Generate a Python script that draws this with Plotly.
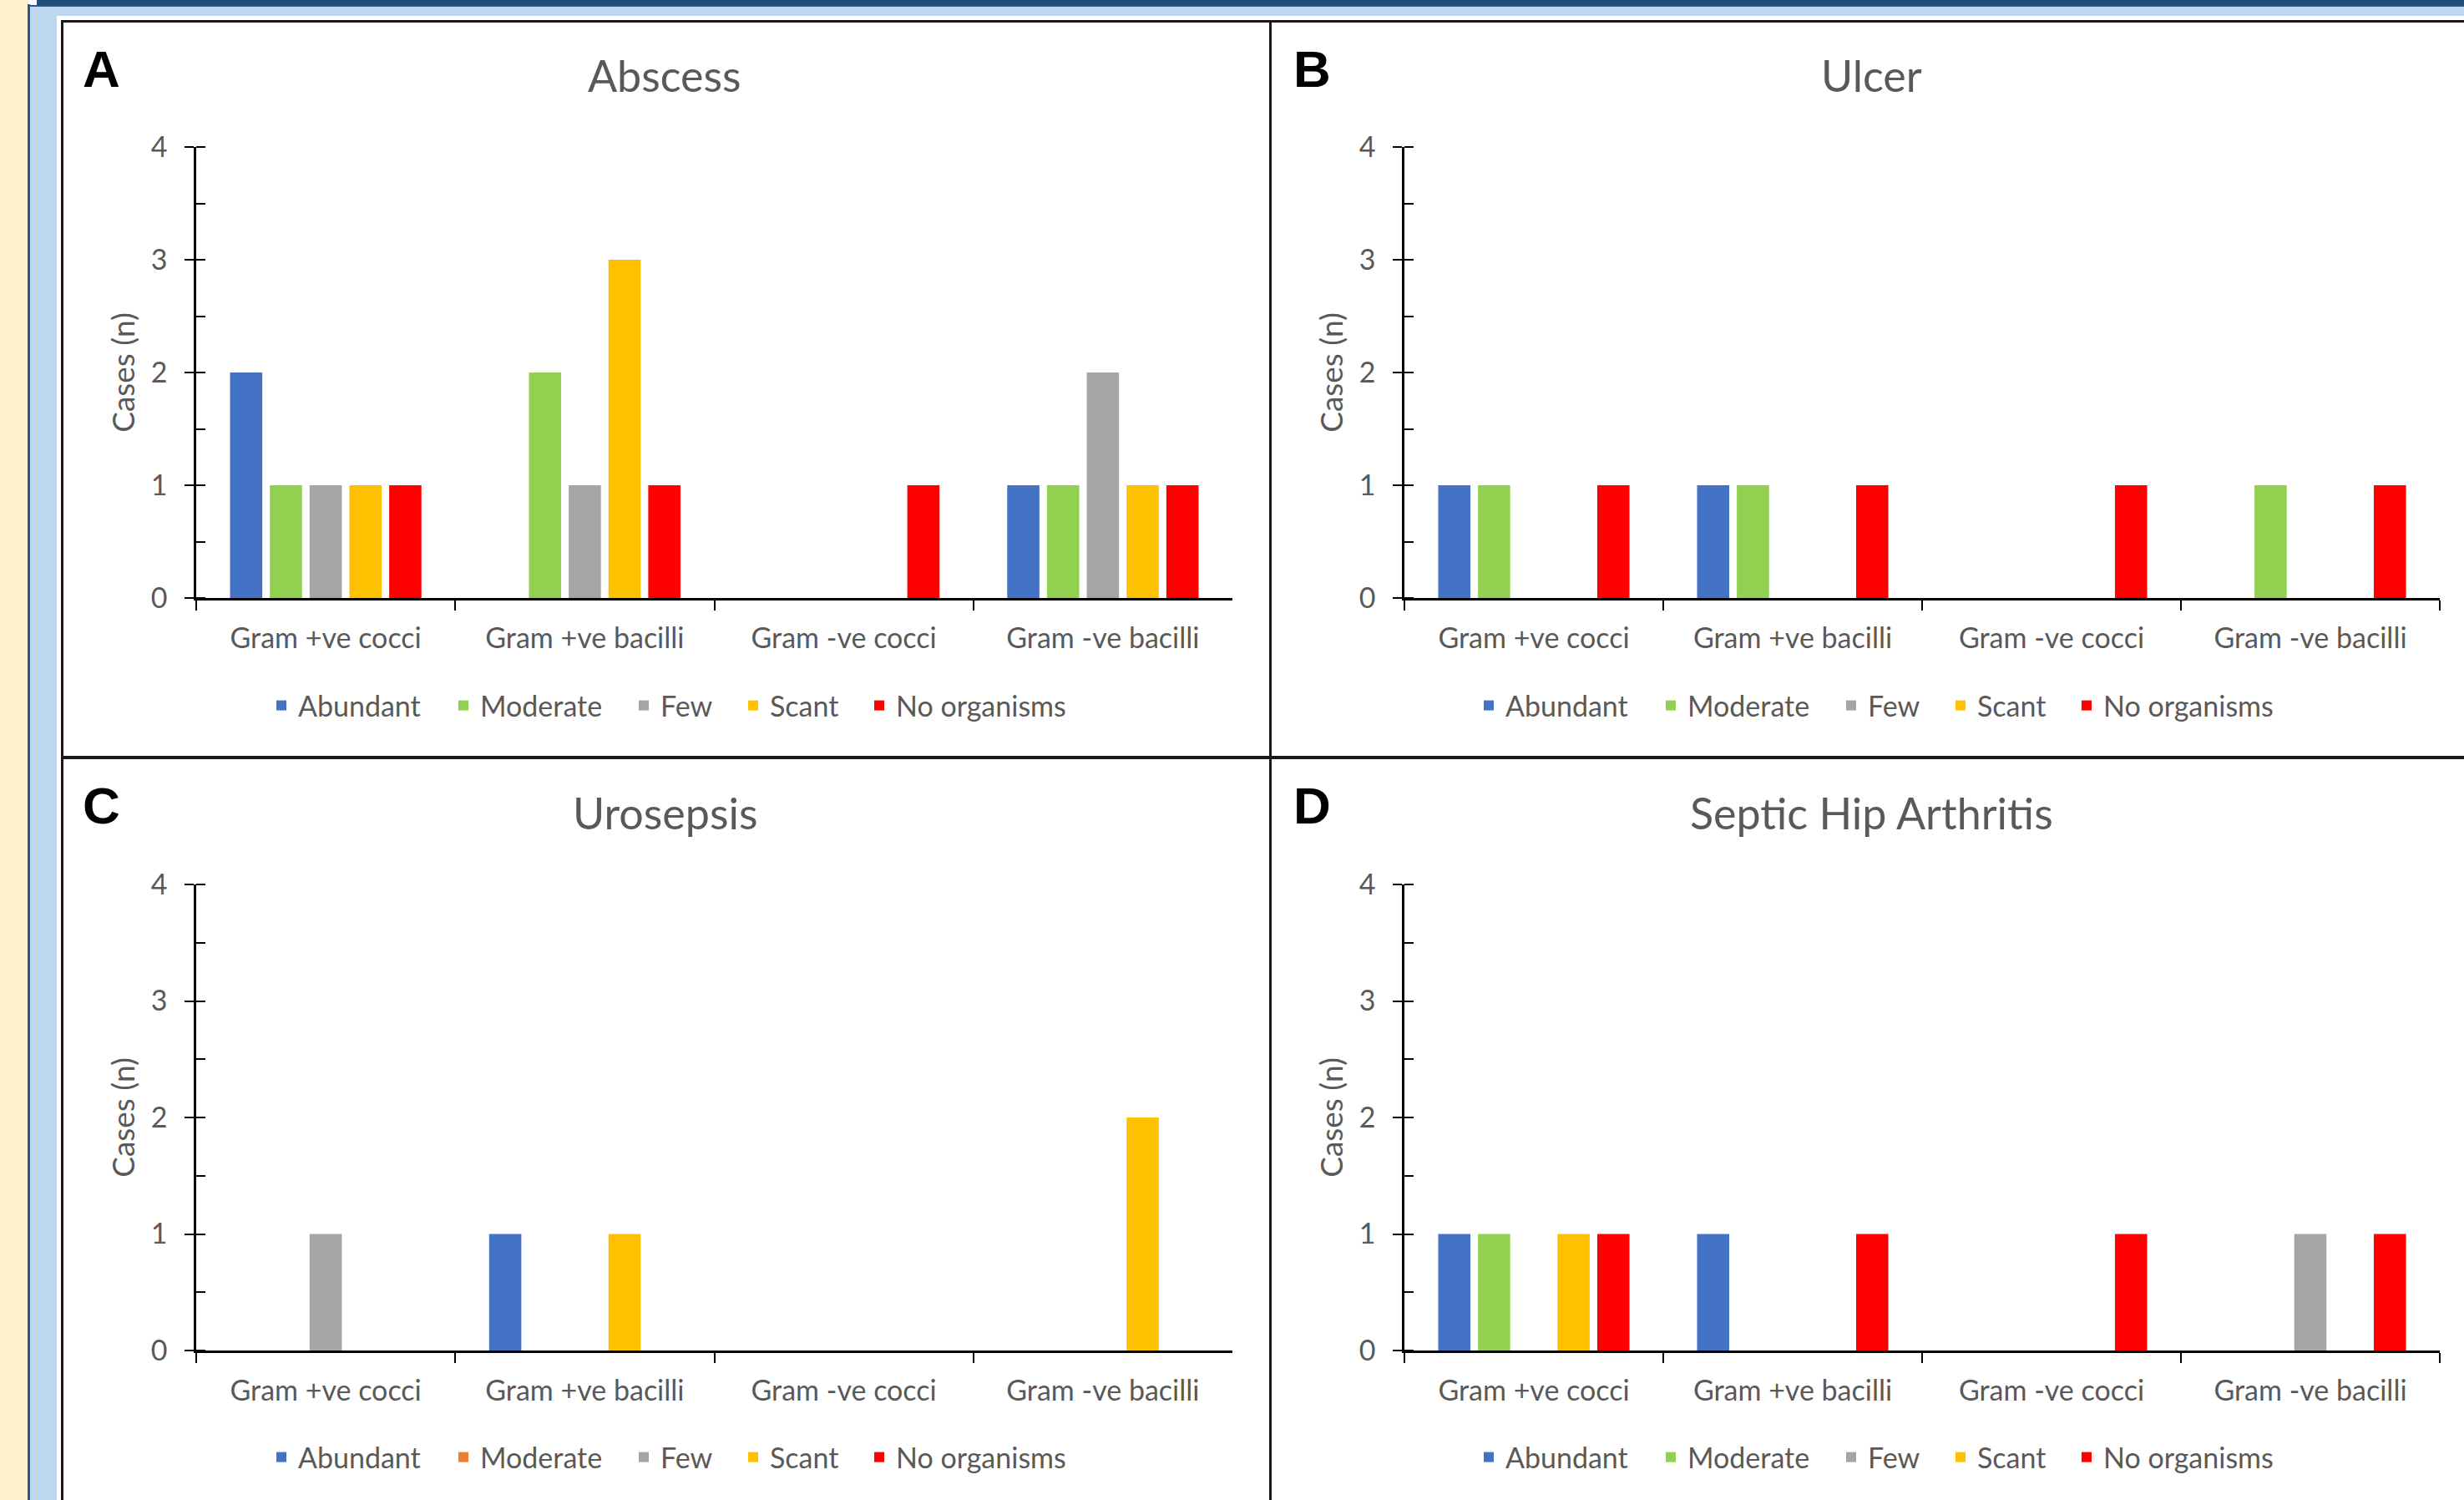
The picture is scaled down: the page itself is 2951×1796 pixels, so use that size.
import plotly.graph_objects as go

W, H = 2951, 1796

# ---------------- data ----------------
categories = ["Gram +ve cocci", "Gram +ve bacilli", "Gram -ve cocci", "Gram -ve bacilli"]
series_names = ["Abundant", "Moderate", "Few", "Scant", "No organisms"]
series_colors = ["#4472C4", "#92D050", "#A5A5A5", "#FFC000", "#FF0000"]
urosepsis_colors = ["#4472C4", "#ED7D31", "#A5A5A5", "#FFC000", "#FF0000"]

panel_titles = ["Abscess", "Ulcer", "Urosepsis", "Septic Hip Arthritis"]
panel_letters = ["A", "B", "C", "D"]
y_axis_title = "Cases (n)"
y_tick_values = [0, 1, 2, 3, 4]

abscess_abundant = [2, 0, 0, 1]
abscess_moderate = [1, 2, 0, 1]
abscess_few = [1, 1, 0, 2]
abscess_scant = [1, 3, 0, 1]
abscess_no_organisms = [1, 1, 1, 1]

ulcer_abundant = [1, 1, 0, 0]
ulcer_moderate = [1, 1, 0, 1]
ulcer_few = [0, 0, 0, 0]
ulcer_scant = [0, 0, 0, 0]
ulcer_no_organisms = [1, 1, 1, 1]

urosepsis_abundant = [0, 1, 0, 0]
urosepsis_moderate = [0, 0, 0, 0]
urosepsis_few = [1, 0, 0, 0]
urosepsis_scant = [0, 1, 0, 2]
urosepsis_no_organisms = [0, 0, 0, 0]

hip_abundant = [1, 1, 0, 0]
hip_moderate = [1, 0, 0, 0]
hip_few = [0, 0, 0, 1]
hip_scant = [1, 0, 0, 0]
hip_no_organisms = [1, 1, 1, 1]

panels_values = [
    [abscess_abundant, abscess_moderate, abscess_few, abscess_scant, abscess_no_organisms],
    [ulcer_abundant, ulcer_moderate, ulcer_few, ulcer_scant, ulcer_no_organisms],
    [urosepsis_abundant, urosepsis_moderate, urosepsis_few, urosepsis_scant, urosepsis_no_organisms],
    [hip_abundant, hip_moderate, hip_few, hip_scant, hip_no_organisms],
]
panels_colors = [series_colors, series_colors, urosepsis_colors, series_colors]

# ---------------- layout geometry (pixels) ----------------
def px(x):
    return x / W

def py(y):
    return 1 - y / H

# plot areas: (left, right, top, bottom)
areas = [
    (235, 1476, 176, 716),
    (1682, 2922, 176, 716),
    (235, 1476, 1059, 1617),
    (1682, 2922, 1059, 1617),
]
title_pos = [(796, 90), (2241, 90), (796, 973), (2241, 973)]
letter_pos = [(97, 83), (1547, 83), (97, 964), (1547, 964)]
# legend rows: horizontal offset and vertical centre of each panel's legend
legend_rows = [(0, 845), (1446, 845), (0, 1745), (1446, 1745)]
# where each legend entry's text begins (panel A coordinates)
legend_text_x = [357, 575, 791, 922, 1073]

FONT = "Lato"
GREY = "#595959"
TICK_SIZE = 34

fig = go.Figure()

def legend_id(p, s):
    k = p * 5 + s + 1
    return "legend" if k == 1 else f"legend{k}"

for p in range(4):
    xa = "x" if p == 0 else f"x{p+1}"
    ya = "y" if p == 0 else f"y{p+1}"
    for s, name in enumerate(series_names):
        fig.add_trace(go.Bar(
            x=categories,
            y=panels_values[p][s],
            name=name,
            marker=dict(color=panels_colors[p][s], line=dict(width=0)),
            xaxis=xa, yaxis=ya,
            legend=legend_id(p, s),
            showlegend=True,
            hoverinfo="x+y+name",
        ))

layout = dict(
    width=W, height=H, autosize=False,
    margin=dict(l=0, r=0, t=0, b=0, pad=0, autoexpand=False),
    paper_bgcolor="white", plot_bgcolor="rgba(0,0,0,0)",
    barmode="group", bargap=0.232, bargroupgap=0.19,
    font=dict(family=FONT, color=GREY, size=TICK_SIZE),
    showlegend=True,
)

for p in range(4):
    l, r, t, b = areas[p]
    xkey = "xaxis" if p == 0 else f"xaxis{p+1}"
    ykey = "yaxis" if p == 0 else f"yaxis{p+1}"
    ya = "y" if p == 0 else f"y{p+1}"
    xa = "x" if p == 0 else f"x{p+1}"
    layout[xkey] = dict(
        domain=[px(l), px(r)], anchor=ya, type="category",
        categoryorder="array", categoryarray=categories,
        tickson="boundaries", ticks="outside", ticklen=12, tickwidth=2, tickcolor="black",
        showline=True, linecolor="black", linewidth=2.5,
        showgrid=False, zeroline=False, automargin=False,
        tickfont=dict(family=FONT, size=TICK_SIZE, color=GREY),
        ticklabelstandoff=16,
        fixedrange=True,
    )
    layout[ykey] = dict(
        domain=[py(b), py(t)], anchor=xa,
        range=[0, 4], tickmode="array", tickvals=y_tick_values,
        ticks="outside", ticklen=11, tickwidth=2, tickcolor="black",
        minor=dict(dtick=0.5, ticks="inside", ticklen=11, tickwidth=2, tickcolor="black", showgrid=False),
        showline=True, linecolor="black", linewidth=2.5,
        showgrid=False, zeroline=False, automargin=False,
        tickfont=dict(family=FONT, size=TICK_SIZE, color=GREY),
        ticklabelstandoff=14,
        title=dict(text=y_axis_title, font=dict(family=FONT, size=37, color=GREY), standoff=8),
        fixedrange=True,
    )
    dx, ly = legend_rows[p]
    for s in range(5):
        lx = legend_text_x[s] + dx - 40
        layout[legend_id(p, s)] = dict(
            orientation="h", x=px(lx), y=py(ly), xanchor="left", yanchor="middle",
            xref="paper", yref="paper",
            font=dict(family=FONT, size=TICK_SIZE, color=GREY),
            bgcolor="rgba(0,0,0,0)", borderwidth=0,
            itemclick=False, itemdoubleclick=False,
        )

annotations = []
for p in range(4):
    tx, ty = title_pos[p]
    annotations.append(dict(
        text=panel_titles[p], x=px(tx), y=py(ty), xref="paper", yref="paper",
        xanchor="center", yanchor="middle", showarrow=False,
        font=dict(family=FONT, size=52, color=GREY),
    ))
    lx, ly = letter_pos[p]
    annotations.append(dict(
        text="<b>" + panel_letters[p] + "</b>", x=px(lx), y=py(ly), xref="paper", yref="paper",
        xanchor="left", yanchor="middle", showarrow=False,
        font=dict(family="Liberation Sans, Arial", size=62, color="black"),
    ))
layout["annotations"] = annotations

# page frame decoration
def rect(x0, y0, x1, y1, color, layer="below"):
    return dict(type="rect", xref="paper", yref="paper",
                x0=px(x0), x1=px(x1), y0=py(y1), y1=py(y0),
                fillcolor=color, line=dict(width=0), layer=layer)

shapes = [
    rect(0, 0, 34, H, "#FFF2CC"),
    rect(36, 7, W, 19, "#BDD7EE"),
    rect(36, 7, 68, H, "#BDD7EE"),
    rect(44, 0, W, 7, "#1F4E79"),
    rect(33, 5, 36, H, "#2F5597"),
    rect(36, 6, W, 8, "#2F5597"),
    # outer border
    rect(73, 24, W, 27, "#1a1a1a"),
    rect(73, 24, 76, H, "#1a1a1a"),
    # panel dividers
    rect(1520, 24, 1523, H, "#1a1a1a"),
    rect(73, 905, W, 909, "#1a1a1a"),
]
layout["shapes"] = shapes

fig.update_layout(**layout)
fig.write_html(
    "out.html", include_plotlyjs=True, config={"displayModeBar": False},
    post_script="document.body.style.margin='0';document.body.style.overflow='hidden';",
)
